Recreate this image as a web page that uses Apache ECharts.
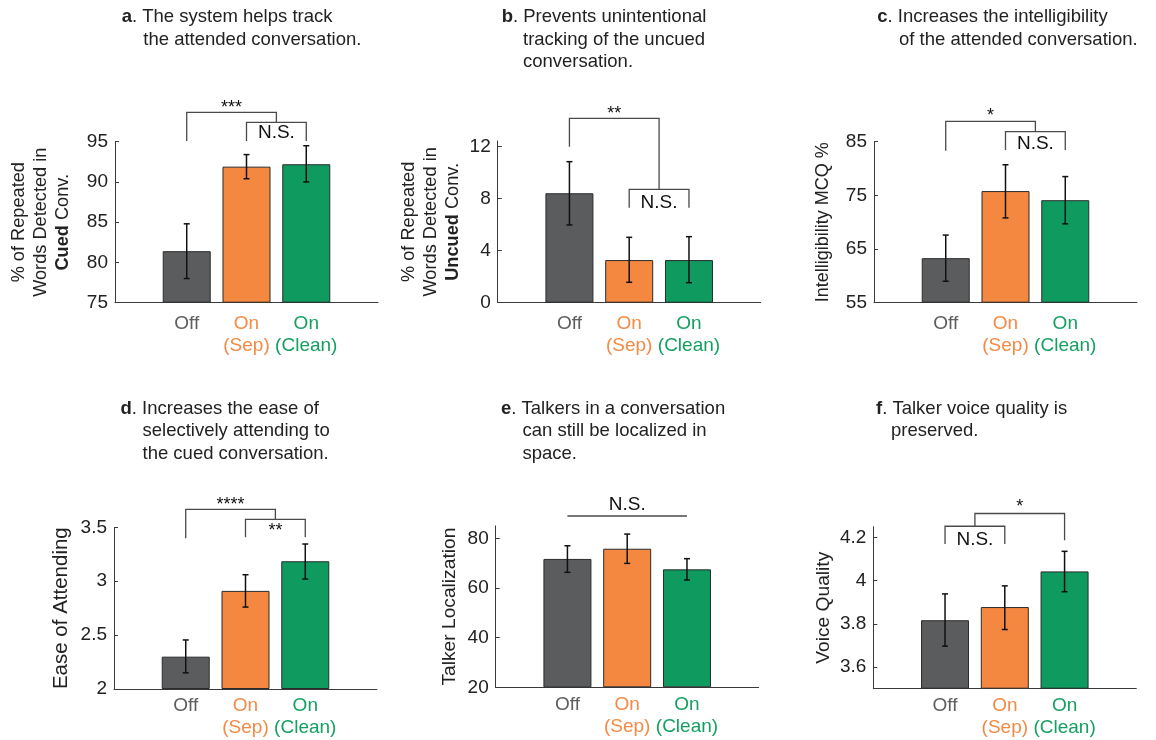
<!DOCTYPE html>
<html>
<head>
<meta charset="utf-8">
<script src="https://cdn.jsdelivr.net/npm/echarts@6/dist/echarts.min.js"></script>
<style>
  html, body { margin: 0; padding: 0; background: #ffffff; }
  #chart { width: 1156px; height: 740px; }
</style>
</head>
<body>
<div id="chart"></div>
<script>
// ---- Data -------------------------------------------------------------
const conditionLabels = ['Off', 'On\n(Sep)', 'On\n(Clean)'];
const conditionX = [1, 2, 3];

// a. Repeated words detected in the cued conversation (%)
const cuedMean = [81.4, 91.9, 92.2];
const cuedErrLow = [78.0, 90.4, 90.0];
const cuedErrHigh = [84.8, 93.4, 94.5];
const cuedTicks = [75, 80, 85, 90, 95];

// b. Repeated words detected in the uncued conversation (%)
const uncuedMean = [8.42, 3.28, 3.28];
const uncuedErrLow = [5.98, 1.57, 1.54];
const uncuedErrHigh = [10.85, 5.03, 5.08];
const uncuedTicks = [0, 4, 8, 12];

// c. Intelligibility MCQ (%)
const mcqMean = [63.3, 75.8, 74.1];
const mcqErrLow = [59.0, 70.8, 69.7];
const mcqErrHigh = [67.6, 80.7, 78.5];
const mcqTicks = [55, 65, 75, 85];

// d. Ease of attending
const easeMean = [2.30, 2.91, 3.185];
const easeErrLow = [2.15, 2.76, 3.02];
const easeErrHigh = [2.455, 3.06, 3.345];
const easeTicks = [2, 2.5, 3, 3.5];

// e. Talker localization
const locMean = [71.7, 75.8, 67.5];
const locErrLow = [66.3, 69.9, 63.2];
const locErrHigh = [77.0, 81.7, 71.8];
const locTicks = [20, 40, 60, 80];

// f. Voice quality
const voiceMean = [3.817, 3.878, 4.043];
const voiceErrLow = [3.697, 3.774, 3.949];
const voiceErrHigh = [3.939, 3.976, 4.136];
const voiceTicks = [3.6, 3.8, 4, 4.2];

// Significance brackets (x in condition units, y in axis units)
const sigA = [
  { path: [[1, 95.1], [1, 98.65], [2.5, 98.65], [2.5, 97.41]], text: '***', at: [1.75, 99.19] },
  { path: [[2, 95.1], [2, 97.41], [3, 97.41], [3, 95.1]], text: 'N.S.', at: [2.5, 96.05] }
];
const sigB = [
  { path: [[1, 12.0], [1, 14.18], [2.5, 14.18], [2.5, 8.72]], text: '**', at: [1.75, 14.52] },
  { path: [[2, 7.31], [2, 8.72], [3, 8.72], [3, 7.31]], text: 'N.S.', at: [2.5, 7.69] }
];
const sigC = [
  { path: [[1, 83.32], [1, 88.8], [2.5, 88.8], [2.5, 86.86]], text: '*', at: [1.75, 89.73] },
  { path: [[2, 83.45], [2, 86.86], [3, 86.86], [3, 83.45]], text: 'N.S.', at: [2.5, 84.7] }
];
const sigD = [
  { path: [[1, 3.398], [1, 3.667], [2.5, 3.667], [2.5, 3.574]], text: '****', at: [1.75, 3.71] },
  { path: [[2, 3.407], [2, 3.574], [3, 3.574], [3, 3.407]], text: '**', at: [2.5, 3.463] }
];
const sigE = [
  { path: [[1, 88.99], [3, 88.99]], text: 'N.S.', at: [2, 93.4] }
];
const sigF = [
  { path: [[1, 4.170], [1, 4.252], [2, 4.252], [2, 4.170]], text: 'N.S.', at: [1.5, 4.19] },
  { path: [[1.5, 4.252], [1.5, 4.311], [3, 4.311], [3, 4.187]], text: '*', at: [2.25, 4.339] }
];

// ---- Styling ----------------------------------------------------------
const FONT = "'Liberation Sans', Arial, Helvetica, sans-serif";
const barColors = ['#5b5c5e', '#f58840', '#0f9a5f'];
const labelColors = ['#5e5e5e', '#f48a45', '#15a062'];
const axisColor = '#3a3a3a';
const textColor = '#222222';

const panels = [
  { mean: cuedMean, lo: cuedErrLow, hi: cuedErrHigh, ticks: cuedTicks, sig: sigA,
    min: 75, max: 95, grid: { left: 115, top: 141.7, width: 263, height: 161 },
    name: '% of Repeated\nWords Detected in\n{b|Cued} Conv.', nameSize: 18.2, nameGap: 41, labelMargin: 10,
    letter: 'a', first: 'The system helps track', rest: 'the attended conversation.',
    tx: 121.7, rx: 143.3, ty: 17 },
  { mean: uncuedMean, lo: uncuedErrLow, hi: uncuedErrHigh, ticks: uncuedTicks, sig: sigB,
    min: 0, max: 12.44, grid: { left: 497.7, top: 141, width: 263, height: 161.7 },
    name: '% of Repeated\nWords Detected in\n{b|Uncued} Conv.', nameSize: 18.2, nameGap: 34, labelMargin: 10,
    letter: 'b', first: 'Prevents unintentional', rest: 'tracking of the uncued\nconversation.',
    tx: 501.7, rx: 523, ty: 17 },
  { mean: mcqMean, lo: mcqErrLow, hi: mcqErrHigh, ticks: mcqTicks, sig: sigC,
    min: 55, max: 85, grid: { left: 874, top: 141.7, width: 263, height: 161 },
    name: 'Intelligibility MCQ %', nameSize: 18, nameGap: 40, labelMargin: 10,
    letter: 'c', first: 'Increases the intelligibility', rest: 'of the attended conversation.',
    tx: 877.3, rx: 899, ty: 17 },
  { mean: easeMean, lo: easeErrLow, hi: easeErrHigh, ticks: easeTicks, sig: sigD,
    min: 2, max: 3.5, grid: { left: 114, top: 527.3, width: 263, height: 161.7 },
    name: 'Ease of Attending', nameSize: 20.5, nameGap: 42, labelMargin: 6,
    letter: 'd', first: 'Increases the ease of', rest: 'selectively attending to\nthe cued conversation.',
    tx: 120.5, rx: 142.5, ty: 408.5 },
  { mean: locMean, lo: locErrLow, hi: locErrHigh, ticks: locTicks, sig: sigE,
    min: 20, max: 85, grid: { left: 495.7, top: 525.9, width: 263, height: 161.4 },
    name: 'Talker Localization', nameSize: 19.2, nameGap: 35, labelMargin: 6,
    letter: 'e', first: 'Talkers in a conversation', rest: 'can still be localized in\nspace.',
    tx: 501, rx: 522.5, ty: 408.5 },
  { mean: voiceMean, lo: voiceErrLow, hi: voiceErrHigh, ticks: voiceTicks, sig: sigF,
    min: 3.5, max: 4.25, grid: { left: 873.3, top: 526.7, width: 263, height: 162 },
    name: 'Voice Quality', nameSize: 19.2, nameGap: 39, labelMargin: 6,
    letter: 'f', first: 'Talker voice quality is', rest: 'preserved.',
    tx: 876, rx: 891, ty: 408.5 }
];

// ---- Option building -------------------------------------------------
const TITLE_SIZE = 18.5;
const TITLE_LH = 22.5;
const titles = [];
const grids = [];
const xAxes = [];
const yAxes = [];
const series = [];

const labelRich = {
  c0: { color: labelColors[0], fontSize: 19, lineHeight: 22, fontFamily: FONT },
  c1: { color: labelColors[1], fontSize: 19, lineHeight: 22, fontFamily: FONT },
  c2: { color: labelColors[2], fontSize: 19, lineHeight: 22, fontFamily: FONT }
};

function conditionLabel(v) {
  const k = conditionX.indexOf(Math.round(v));
  if (k < 0) return '';
  return conditionLabels[k].split('\n').map(s => '{c' + k + '|' + s + '}').join('\n');
}

panels.forEach((p, i) => {
  titles.push({
    left: p.tx, top: p.ty - TITLE_LH / 2, padding: 0,
    text: '{b|' + p.letter + '}{t|. ' + p.first + '}',
    textStyle: {
      rich: {
        b: { fontWeight: 'bold', fontSize: TITLE_SIZE, color: textColor, fontFamily: FONT, lineHeight: TITLE_LH },
        t: { fontWeight: 'normal', fontSize: TITLE_SIZE, color: textColor, fontFamily: FONT, lineHeight: TITLE_LH }
      }
    }
  });
  titles.push({
    left: p.rx, top: p.ty + TITLE_LH / 2, padding: 0,
    text: p.rest,
    textStyle: { fontWeight: 'normal', fontSize: TITLE_SIZE, color: textColor, fontFamily: FONT, lineHeight: TITLE_LH }
  });

  grids.push(Object.assign({ containLabel: false }, p.grid));

  xAxes.push({
    gridIndex: i, type: 'value', min: -0.2, max: 4.2,
    axisLine: { show: true, onZero: false, lineStyle: { color: axisColor, width: 1 } },
    axisTick: { show: false },
    splitLine: { show: false },
    axisLabel: {
      customValues: conditionX, margin: p.labelMargin,
      formatter: conditionLabel, rich: labelRich, fontFamily: FONT, fontSize: 19, lineHeight: 22
    }
  });

  yAxes.push({
    gridIndex: i, type: 'value', min: p.min, max: p.max, startValue: p.min,
    axisLine: { show: true, onZero: false, lineStyle: { color: axisColor, width: 1 } },
    axisTick: { show: true, inside: true, length: 4, customValues: p.ticks, lineStyle: { color: axisColor } },
    axisLabel: { customValues: p.ticks, fontSize: 19, color: textColor, fontFamily: FONT, margin: 7 },
    splitLine: { show: false },
    name: p.name, nameLocation: 'middle', nameRotate: 90, nameGap: p.nameGap,
    nameTextStyle: {
      fontSize: p.nameSize, color: textColor, fontFamily: FONT, lineHeight: 22, align: 'center',
      rich: { b: { fontWeight: 'bold', fontSize: p.nameSize, color: textColor, fontFamily: FONT, lineHeight: 22 } }
    }
  });

  // bars
  series.push({
    type: 'bar', xAxisIndex: i, yAxisIndex: i, barWidth: 48, clip: true, silent: true,
    data: p.mean.map((v, k) => ({ value: [conditionX[k], v], itemStyle: { color: barColors[k] } })),
    itemStyle: { borderColor: '#2b2b2b', borderWidth: 1 }
  });

  // error bars
  series.push({
    type: 'custom', xAxisIndex: i, yAxisIndex: i, silent: true, z: 5,
    data: p.mean.map((v, k) => [conditionX[k], p.lo[k], p.hi[k]]),
    encode: { x: 0, y: [1, 2] },
    renderItem: function (params, api) {
      const x = api.value(0);
      const top = api.coord([x, api.value(2)]);
      const bot = api.coord([x, api.value(1)]);
      const cap = 3;
      const st = { stroke: '#111111', lineWidth: 1.5 };
      return {
        type: 'group',
        children: [
          { type: 'line', shape: { x1: top[0], y1: top[1], x2: bot[0], y2: bot[1] }, style: st },
          { type: 'line', shape: { x1: top[0] - cap, y1: top[1], x2: top[0] + cap, y2: top[1] }, style: st },
          { type: 'line', shape: { x1: bot[0] - cap, y1: bot[1], x2: bot[0] + cap, y2: bot[1] }, style: st }
        ]
      };
    }
  });

  // significance brackets
  const sig = p.sig;
  series.push({
    type: 'custom', xAxisIndex: i, yAxisIndex: i, silent: true, z: 6, clip: false,
    data: sig.map((s, k) => [2, p.min, k]),
    encode: { x: 0, y: 1 },
    renderItem: function (params, api) {
      const s = sig[params.dataIndex];
      const pts = s.path.map(q => api.coord(q));
      const at = api.coord(s.at);
      const isStar = s.text.indexOf('*') >= 0;
      return {
        type: 'group',
        children: [
          { type: 'polyline', shape: { points: pts }, style: { stroke: '#4a4a4a', lineWidth: 1.3, fill: null } },
          { type: 'text', x: at[0], y: at[1],
            style: { text: s.text, fill: '#111111', fontSize: isStar ? 18 : 19, fontFamily: FONT,
                     align: 'center', verticalAlign: 'middle' } }
        ]
      };
    }
  });
});

const chart = echarts.init(document.getElementById('chart'), null, { renderer: 'canvas' });
chart.setOption({
  backgroundColor: '#ffffff',
  animation: false,
  title: titles,
  grid: grids,
  xAxis: xAxes,
  yAxis: yAxes,
  series: series
});
</script>
</body>
</html>
